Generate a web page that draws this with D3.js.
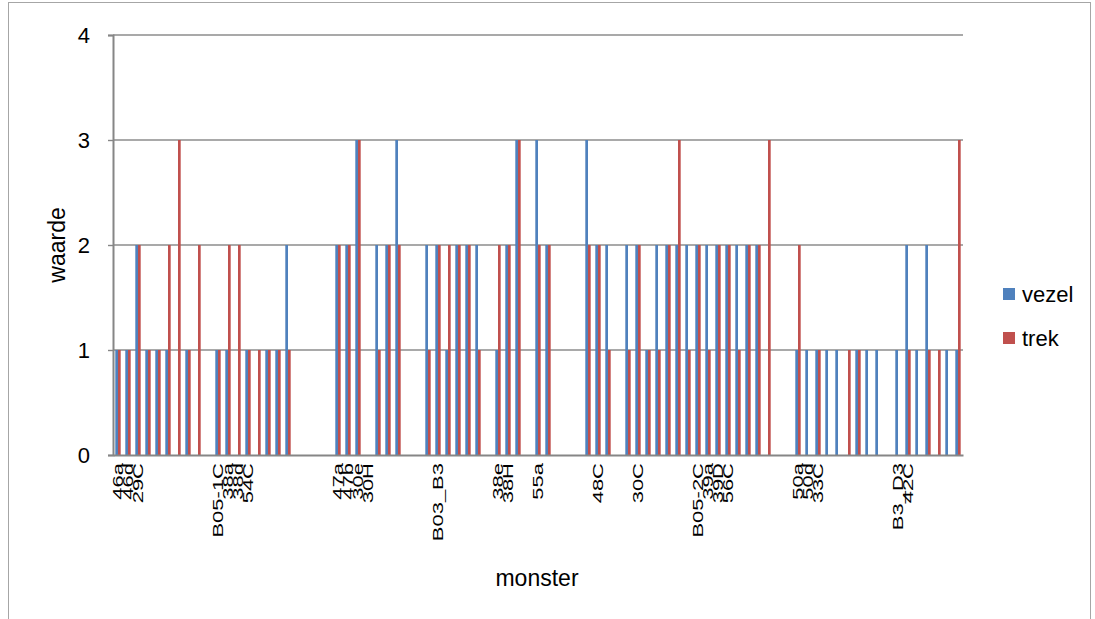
<!DOCTYPE html>
<html>
<head>
<meta charset="utf-8">
<script src="https://cdn.jsdelivr.net/npm/d3@7"></script>
<style>
  html, body { margin: 0; padding: 0; background: #ffffff; }
  svg { display: block; }
  text { font-family: "Liberation Sans", Arial, sans-serif; fill: #000; }
</style>
</head>
<body>
<svg id="chart" width="1095" height="619"></svg>
<script>
// Sample labels along the category axis (blank where a sample has no printed name)
const sampleLabels = [
  "46a","46d","29C","","","","","","","",
  "B05-1C","38a","38d","54C","","","","","","",
  "","","47a","47b","30e","30H","","","","",
  "","","B03_B3","","","","","","38e","38H",
  "","","55a","","","","","","48C","",
  "","","30C","","","","","","B05-2C","39a",
  "39D","56C","","","","","","","50a","50d",
  "33C","","","","","","","","B3_D3","42C",
  "","","","",""
];

// Scores per sample
const vezel = [
  1,1,2,1,1,1,0,1,0,0,
  1,1,0,1,0,1,1,2,0,0,
  0,0,2,2,3,0,2,2,3,0,
  0,2,2,1,2,2,2,0,1,2,
  3,0,3,2,0,0,0,3,2,2,
  0,2,2,1,2,2,2,2,2,2,
  2,2,2,2,2,0,0,0,1,1,
  1,1,1,0,1,1,1,0,1,2,
  1,2,0,1,1
];
const trek = [
  1,1,2,1,1,2,3,1,2,0,
  1,2,2,1,1,1,1,1,0,0,
  0,0,2,2,3,0,1,2,2,0,
  0,1,2,2,2,2,1,0,2,2,
  3,0,2,2,0,0,0,2,2,1,
  0,1,2,1,1,2,3,1,2,1,
  2,2,1,2,2,3,0,0,2,0,
  1,0,0,1,1,0,0,0,0,1,
  0,1,1,0,3
];

const seriesNames = ["vezel", "trek"];
const seriesColors = ["#4F81BD", "#C0504D"];
const yTicks = [0, 1, 2, 3, 4];

const svg = d3.select("#chart");

// outer chart frame
svg.append("rect")
  .attr("x", 8.5).attr("y", 2.5)
  .attr("width", 1082).attr("height", 640)
  .attr("fill", "none").attr("stroke", "#a6a6a6").attr("stroke-width", 1);

const plot = { left: 113, right: 963, top: 35, bottom: 455 };

const idx = d3.range(vezel.length);
const x = d3.scaleBand()
  .domain(idx)
  .range([plot.left, plot.right])
  .paddingInner(0.46)
  .paddingOuter(0.23);
const xs = d3.scaleBand()
  .domain(seriesNames)
  .range([0, x.bandwidth()]);
const y = d3.scaleLinear().domain([0, 4]).range([plot.bottom, plot.top]);

// gridlines
svg.append("g")
  .selectAll("line")
  .data(yTicks.filter(d => d > 0))
  .join("line")
  .attr("x1", plot.left).attr("x2", plot.right)
  .attr("y1", d => y(d)).attr("y2", d => y(d))
  .attr("stroke", "#8c8c8c").attr("stroke-width", 1.4);

// bars
const rows = idx.map(i => ({ i, vals: [vezel[i], trek[i]] }));
const groups = svg.append("g")
  .selectAll("g")
  .data(rows)
  .join("g")
  .attr("transform", d => `translate(${x(d.i)},0)`);
groups.selectAll("rect")
  .data(d => d.vals.map((v, k) => ({ v, k })))
  .join("rect")
  .attr("x", d => xs(seriesNames[d.k]))
  .attr("width", xs.bandwidth())
  .attr("y", d => y(d.v))
  .attr("height", d => y(0) - y(d.v))
  .attr("fill", d => seriesColors[d.k]);

// y axis
const yAxis = d3.axisLeft(y).tickValues(yTicks).tickSize(5).tickPadding(18).tickFormat(d3.format("d"));
const gy = svg.append("g").attr("transform", `translate(${plot.left},0)`).call(yAxis);
gy.select(".domain").attr("stroke", "#868686").attr("stroke-width", 2);
gy.selectAll(".tick line").attr("stroke", "#868686").attr("stroke-width", 1.4);
gy.selectAll(".tick text")
  .style("font-family", '"Liberation Sans", Arial, sans-serif')
  .style("font-size", "22px").attr("fill", "#000");

// x axis: rotated sample names, set narrow so neighbouring names stay apart
const xAxis = d3.axisBottom(x).tickSize(0).tickPadding(0).tickFormat(i => sampleLabels[i]);
const gx = svg.append("g").attr("transform", `translate(0,${plot.bottom})`).call(xAxis);
gx.select(".domain").attr("stroke", "#868686").attr("stroke-width", 2.2);
gx.selectAll(".tick text")
  .style("font-family", '"Liberation Sans", Arial, sans-serif')
  .style("font-size", "22px").attr("fill", "#000")
  .attr("text-anchor", "end")
  .attr("dy", "0.35em")
  .attr("transform", "translate(0,8) rotate(-90) scale(1,0.66)")
  .attr("x", 0).attr("y", 0);

// axis titles
svg.append("text")
  .attr("transform", "translate(65,245) rotate(-90)")
  .attr("text-anchor", "middle")
  .style("font-size", "23px")
  .text("waarde");
svg.append("text")
  .attr("x", 537).attr("y", 586)
  .attr("text-anchor", "middle")
  .style("font-size", "23px")
  .text("monster");

// legend
const legend = svg.append("g");
seriesNames.forEach((name, k) => {
  const cy = 294 + k * 44;
  legend.append("rect")
    .attr("x", 1003).attr("y", cy - 6)
    .attr("width", 12).attr("height", 12)
    .attr("fill", seriesColors[k]);
  legend.append("text")
    .attr("x", 1022).attr("y", cy + 8)
    .style("font-size", "22px")
    .text(name);
});
</script>
</body>
</html>
